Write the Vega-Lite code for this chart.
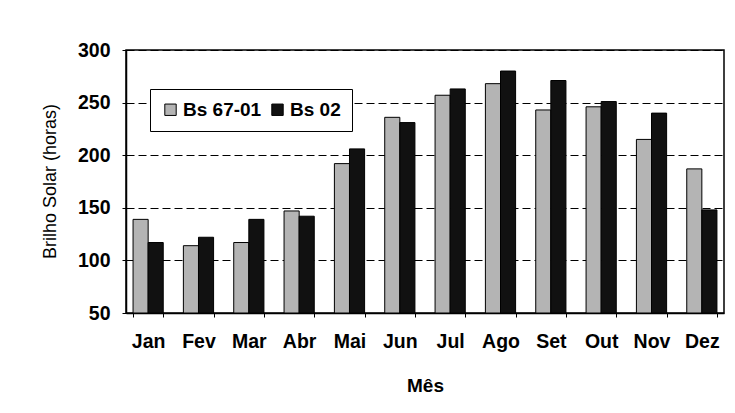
{
  "$schema": "https://vega.github.io/schema/vega-lite/v6.json",
  "width": 598,
  "height": 263,
  "autosize": {"type": "none"},
  "padding": {"left": 126, "top": 50, "right": 11, "bottom": 100},
  "background": "white",
  "data": {
    "values": [
      {"mes": "Jan", "serie": "Bs 67-01", "horas": 139},
      {"mes": "Jan", "serie": "Bs 02", "horas": 117},
      {"mes": "Fev", "serie": "Bs 67-01", "horas": 114},
      {"mes": "Fev", "serie": "Bs 02", "horas": 122},
      {"mes": "Mar", "serie": "Bs 67-01", "horas": 117},
      {"mes": "Mar", "serie": "Bs 02", "horas": 139},
      {"mes": "Abr", "serie": "Bs 67-01", "horas": 147},
      {"mes": "Abr", "serie": "Bs 02", "horas": 142},
      {"mes": "Mai", "serie": "Bs 67-01", "horas": 192},
      {"mes": "Mai", "serie": "Bs 02", "horas": 206},
      {"mes": "Jun", "serie": "Bs 67-01", "horas": 236},
      {"mes": "Jun", "serie": "Bs 02", "horas": 231},
      {"mes": "Jul", "serie": "Bs 67-01", "horas": 257},
      {"mes": "Jul", "serie": "Bs 02", "horas": 263},
      {"mes": "Ago", "serie": "Bs 67-01", "horas": 268},
      {"mes": "Ago", "serie": "Bs 02", "horas": 280},
      {"mes": "Set", "serie": "Bs 67-01", "horas": 243},
      {"mes": "Set", "serie": "Bs 02", "horas": 271},
      {"mes": "Out", "serie": "Bs 67-01", "horas": 246},
      {"mes": "Out", "serie": "Bs 02", "horas": 251},
      {"mes": "Nov", "serie": "Bs 67-01", "horas": 215},
      {"mes": "Nov", "serie": "Bs 02", "horas": 240},
      {"mes": "Dez", "serie": "Bs 67-01", "horas": 187},
      {"mes": "Dez", "serie": "Bs 02", "horas": 148}
    ]
  },
  "mark": {"type": "bar", "stroke": "black", "strokeWidth": 1},
  "encoding": {
    "x": {
      "field": "mes",
      "type": "nominal",
      "sort": ["Jan", "Fev", "Mar", "Abr", "Mai", "Jun", "Jul", "Ago", "Set", "Out", "Nov", "Dez"],
      "scale": {"paddingInner": 0.4, "paddingOuter": 0.14},
      "axis": {
        "title": "Mês",
        "labelAngle": 0,
        "labelFont": "Liberation Sans",
        "labelFontSize": 19.5,
        "labelFontWeight": "bold",
        "labelColor": "black",
        "labelPadding": 15,
        "tickBand": "extent",
        "tickSize": 4,
        "tickColor": "black",
        "domainColor": "black",
        "domainWidth": 1.5,
        "titleFont": "Liberation Sans",
        "titleFontSize": 19,
        "titleFontWeight": "bold",
        "titleColor": "black",
        "titleY": 72,
        "titleBaseline": "middle"
      }
    },
    "xOffset": {
      "field": "serie",
      "type": "nominal",
      "sort": ["Bs 67-01", "Bs 02"]
    },
    "y": {
      "field": "horas",
      "type": "quantitative",
      "scale": {"domain": [50, 300], "nice": false, "zero": false},
      "axis": {
        "title": "Brilho Solar (horas)",
        "values": [50, 100, 150, 200, 250, 300],
        "labelFont": "Liberation Sans",
        "labelFontSize": 19.5,
        "labelFontWeight": "bold",
        "labelColor": "black",
        "labelPadding": 12,
        "tickSize": 4,
        "tickColor": "black",
        "domainColor": "black",
        "domainWidth": 1.5,
        "grid": true,
        "gridColor": "black",
        "gridDash": [8, 4],
        "gridWidth": 1,
        "titleFont": "Liberation Sans",
        "titleFontSize": 18,
        "titleFontWeight": "normal",
        "titleColor": "black",
        "titleX": -76,
        "titleY": 131,
        "titleAngle": -90,
        "titleBaseline": "middle",
        "titleAlign": "center"
      }
    },
    "y2": {"datum": 50},
    "fill": {
      "field": "serie",
      "type": "nominal",
      "sort": ["Bs 67-01", "Bs 02"],
      "scale": {"domain": ["Bs 67-01", "Bs 02"], "range": ["#b4b4b4", "#111111"]},
      "legend": {
        "title": null,
        "orient": "none",
        "direction": "horizontal",
        "legendX": 24,
        "legendY": 39,
        "strokeColor": "black",
        "fillColor": "white",
        "padding": 11,
        "symbolType": "square",
        "symbolSize": 130,
        "symbolStrokeColor": "black",
        "symbolStrokeWidth": 1,
        "labelFont": "Liberation Sans",
        "labelFontSize": 19,
        "labelFontWeight": "bold",
        "labelColor": "black",
        "labelOffset": 3,
        "columnPadding": 6
      }
    }
  },
  "config": {
    "view": {"stroke": "black", "strokeWidth": 1.5}
  }
}
